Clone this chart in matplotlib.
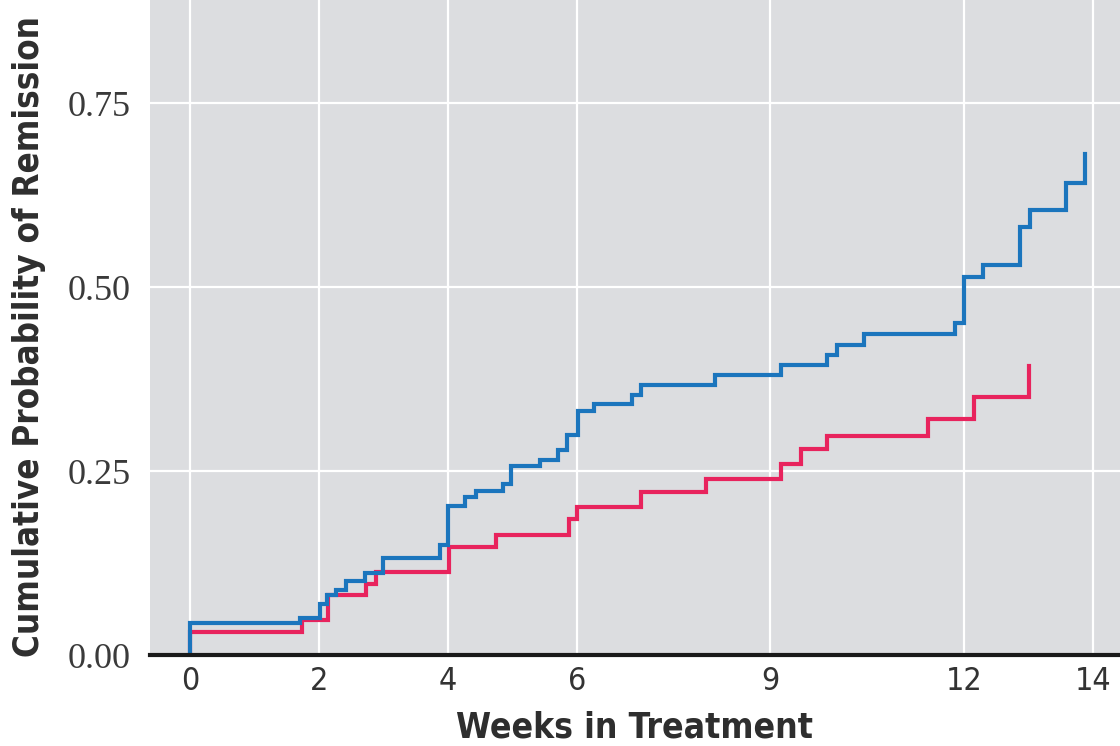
"""Cumulative probability of remission by week - two-arm step curves."""

import matplotlib
matplotlib.use("Agg")
import matplotlib.pyplot as plt

# --- data (weeks, cumulative probability) ---
blue_weeks = [0, 0, 1.70, 2.02, 2.12, 2.26, 2.42, 2.71, 3.00, 3.87, 4.00, 4.27,
              4.43, 4.86, 4.98, 5.42, 5.70, 5.85, 6.02, 6.27, 6.86, 6.99, 8.14,
              9.16, 9.87, 10.03, 10.45, 11.86, 12.00, 12.29, 12.87, 13.02,
              13.59, 13.87]
blue_prob = [0.0, 0.043, 0.050, 0.069, 0.082, 0.089, 0.100, 0.111, 0.132, 0.150,
             0.203, 0.215, 0.223, 0.233, 0.257, 0.265, 0.279, 0.299, 0.332,
             0.341, 0.353, 0.367, 0.380, 0.394, 0.408, 0.421, 0.436, 0.451,
             0.513, 0.530, 0.582, 0.605, 0.641, 0.681]

red_weeks = [0, 0, 1.73, 2.14, 2.73, 2.89, 4.02, 4.74, 5.87, 6.00, 6.99, 8.00,
             9.16, 9.47, 9.87, 11.45, 12.16, 13.01]
red_prob = [0.0, 0.031, 0.048, 0.082, 0.097, 0.113, 0.147, 0.163, 0.185, 0.201,
            0.221, 0.239, 0.260, 0.280, 0.298, 0.321, 0.350, 0.393]

x_ticks = [0, 2, 4, 6, 9, 12, 14]
y_ticks = [0.0, 0.25, 0.50, 0.75]
y_tick_labels = ["0.00", "0.25", "0.50", "0.75"]

fig = plt.figure(figsize=(11.2, 7.46), dpi=100)
ax = fig.add_axes([150 / 1120, 1 - 655 / 746, 970 / 1120, 655 / 746])
ax.set_facecolor("#dcdde0")

ax.plot(red_weeks, red_prob, drawstyle="steps-post", color="#e8235d", lw=3,
        solid_joinstyle="miter", zorder=3)
ax.plot(blue_weeks, blue_prob, drawstyle="steps-post", color="#1b75bd", lw=3,
        solid_joinstyle="miter", zorder=4)

ax.set_xlim(-0.62, 14.42)
ax.set_ylim(0, 0.89)
ax.set_xticks(x_ticks)
ax.set_yticks(y_ticks)
ax.set_yticklabels(y_tick_labels)
ax.grid(True, color="white", lw=1.6)
ax.set_axisbelow(True)

for side in ["top", "right", "left"]:
    ax.spines[side].set_visible(False)
ax.spines["bottom"].set_color("#1a1a1a")
ax.spines["bottom"].set_linewidth(3)
ax.spines["bottom"].set_zorder(5)

ax.tick_params(axis="both", length=0)
ax.tick_params(axis="y", pad=14)
ax.tick_params(axis="x", pad=8)
for lab in ax.get_yticklabels():
    lab.set_fontfamily("Liberation Serif")
    lab.set_fontsize(26)
    lab.set_color("#3a3a3a")
for lab in ax.get_xticklabels():
    lab.set_fontfamily("DejaVu Sans")
    lab.set_fontstretch("condensed")
    lab.set_fontsize(23)
    lab.set_color("#333333")

ax.set_xlabel("Weeks in Treatment", fontsize=25.5, fontweight="bold",
              fontstretch="condensed", family="DejaVu Sans", color="#2e2e2e",
              labelpad=10)
ax.set_ylabel("Cumulative Probability of Remission", fontsize=25,
              fontweight="bold", fontstretch="condensed", family="DejaVu Sans",
              color="#2e2e2e")
ax.yaxis.set_label_coords(-0.107, 0.487)

fig.savefig("out.png", dpi=100)
print("Saved -> out.png")
